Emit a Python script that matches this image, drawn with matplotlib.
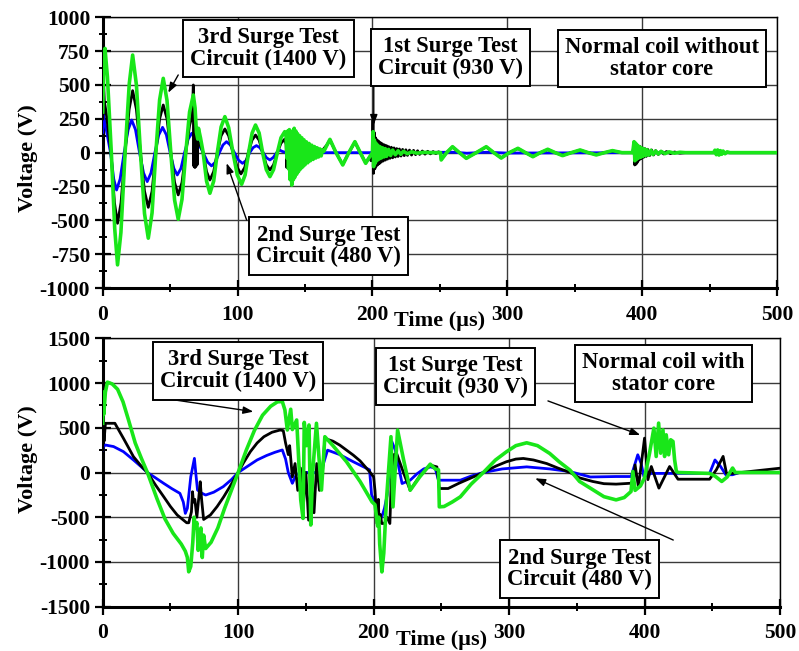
import numpy as np
import matplotlib
matplotlib.use("Agg")
import matplotlib.pyplot as plt
from matplotlib.ticker import MultipleLocator
from matplotlib.font_manager import FontProperties

plt.rcParams['font.family'] = ['Liberation Serif', 'DejaVu Serif']
plt.rcParams['font.weight'] = 'bold'
plt.rcParams['axes.unicode_minus'] = False

# ---------------- Upper panel: coil without stator core ----------------
# 2nd surge test circuit (480 V)
top_blue = [
    (0, 150), (0.5, 278), (1.5, 230), (5.8, 0), (8.2, -195), (10.3, -276), (12.9, -195),
    (15.9, 0), (18.9, 170), (21.5, 241), (24.3, 170), (27.3, 0), (30.3, -150), (33, -214),
    (35.8, -150), (38.7, 0), (41.6, 132), (44.4, 187), (47.2, 132), (50, 0), (52.8, -117),
    (55.3, -165), (58, -117), (60.7, 0), (63.4, 100), (66, 143), (68, 120), (69.5, 60),
    (70.3, 100), (71, 40), (72, 50), (74.5, 0), (77.8, -70), (80.7, -98), (83.5, -70),
    (86.5, 0), (89.2, 57), (91.8, 81), (94.6, 57), (97.7, 0), (100.8, -56), (103.7, -79),
    (106.5, -56), (109, 0), (111.5, 37), (114, 52), (116.5, 37), (119, 0), (121.5, -38),
    (124, -54), (126.5, -35), (129, 0), (131, 20), (133, 10), (136, 0), (199, 0), (200.5, 15),
    (201.5, -10), (203, 0), (260, 3), (270, -4), (285, 3), (300, -3), (395, 0), (396, 8),
    (397, -6), (399, 0), (500, 0),
]
# 1st surge test circuit (930 V)
top_black = [
    (0, 250), (0.5, 550), (1.2, 380), (2.5, 300), (6.2, 0), (8.7, -370), (11, -522),
    (13.6, -370), (16.6, 0), (19.6, 320), (22.2, 458), (25, 320), (28, 0), (31, -285),
    (33.8, -404), (36.6, -285), (39.4, 0), (42.2, 250), (44.9, 352), (47.7, 250), (50.5, 0),
    (53.3, -220), (56, -312), (58.8, -220), (61.6, 0), (64.4, 200), (66.5, 280), (67.2, 500),
    (67.6, -100), (68, 300), (68.4, -110), (68.8, 200), (69.2, -100), (69.6, 150), (70, -90),
    (70.5, 80), (71.5, 70), (73, 40), (74.5, 0), (77, -140), (79.5, -202), (82.3, -140),
    (85, 0), (87.8, 125), (90.6, 175), (93.4, 125), (96.6, 0), (99.8, -110), (102.5, -157),
    (105.3, -110), (108, 0), (110.7, 92), (113.3, 130), (116, 92), (118.6, 0), (121.3, -90),
    (124, -128), (126.7, -90), (129.5, 0), (132.2, 70), (135, 100), (136, 60), (136.5, -110),
    (137, 100), (137.5, -105), (138, 95), (138.5, -100), (139, 80), (139.5, -90), (140.3, 60),
    (141, -60), (142, 50), (143, -50), (144, 40), (145, -40), (146.5, 35), (148, -30),
    (150, 25), (152, -20), (154, 18), (156, -15), (158, 12), (160, -10), (162, 8), (164, 30),
    (166.5, 60), (168.5, 95), (173, 0), (178, -88), (182.5, 0), (187, 78), (191, 0),
    (195, -76), (198, -30), (199, -60), (200, 0), (200.4, 241), (200.8, -153), (201.3, 150),
    (201.8, -120), (202.3, 110), (202.8, -100), (203.4, 95), (204, -90), (204.6, 85),
    (205.2, -80), (205.8, 75), (206.5, -70), (207.2, 66), (208, -62), (208.8, 58),
    (209.6, -55), (210.4, 52), (211.2, -48), (212, 45), (213, -42), (214, 40), (215, -38),
    (216, 35), (217, -32), (218, 30), (219, -28), (220, 27), (221.2, -25), (222.4, 24),
    (223.6, -22), (224.8, 21), (226, -20), (227.5, 19), (229, -18), (230.5, 17), (232, -15),
    (233.5, 14), (235, -13), (237, 12), (239, -11), (241, 10), (243, -9), (245, 8), (247, -7),
    (249, 6), (250.5, 0), (251, -50), (255, 0), (259.4, 42), (264.5, 0), (269.6, -40),
    (277, 0), (284.4, 42), (290, 0), (295.5, -38), (301.5, 0), (307.9, 30), (313.5, 0),
    (319, -28), (324.5, 0), (330, 23), (335.5, 0), (341, -20), (347.5, 0), (354, 18),
    (360, 0), (366, -15), (372, 0), (378, 13), (385, 0), (393, 0), (394, 60), (394.5, -91),
    (395, 70), (395.5, -85), (396, 60), (396.6, -70), (397.2, 50), (397.8, -55), (398.5, 45),
    (399.2, -45), (400, 38), (401, -35), (402, 30), (403, -28), (404, 25), (405.5, -22),
    (407, 20), (408.5, -17), (410, 15), (412, -13), (414, 11), (416, -10), (418, 8),
    (421, -7), (424, 5), (428, -4), (432, 0), (500, 0),
]
# 3rd surge test circuit (1400 V)
top_green = [
    (0, 300), (0.8, 650), (1.7, 770), (3.5, 560), (6.4, 0), (8.9, -560), (11, -829),
    (13.5, -590), (16.6, 0), (19.7, 510), (22.2, 721), (25, 500), (28, 0), (31, -450),
    (33.8, -632), (36.6, -445), (39.4, 0), (42.2, 390), (44.9, 549), (47.7, 385), (50.5, 0),
    (53.3, -350), (56, -492), (58.8, -345), (61.6, 0), (64.4, 300), (67.2, 426), (68.5, 330),
    (69.5, 150), (70.5, 100), (71, 180), (72.5, 110), (74.5, 0), (77, -210), (79.5, -300),
    (82.3, -210), (85, 0), (87.8, 190), (90.6, 266), (93.4, 185), (96.6, 0), (99.8, -165),
    (103, -234), (105.6, -165), (108.2, 0), (110.8, 145), (113.3, 204), (116, 145),
    (118.6, 0), (121.3, -125), (124, -177), (126.7, -125), (129.5, 0), (132.2, 110),
    (135, 155), (136, 120), (136.6, -40), (137.2, 160), (137.8, -120), (138.4, 170),
    (139, -200), (139.6, 150), (140.2, -240), (140.8, 160), (141.4, -200), (142, 180),
    (142.6, -180), (143.2, 160), (143.8, -160), (144.5, 140), (145.2, -140), (146, 125),
    (146.8, -120), (147.6, 110), (148.4, -105), (149.2, 95), (150, -90), (151, 80),
    (152, -75), (153, 68), (154, -60), (155, 55), (156, -50), (157, 45), (158, -40),
    (159, 36), (160, -32), (161, 28), (162, -24), (163, 20), (164, 10), (165, 30),
    (166.5, 60), (168.5, 98), (173, 0), (178, -91), (182.5, 0), (187, 81), (191, 0),
    (195, -79), (198, -30), (200, 0), (200.5, 155), (200.9, -103), (201.4, 94), (202, -79),
    (202.6, 70), (203.3, -60), (204, 55), (204.8, -48), (205.6, 44), (206.5, -40),
    (207.5, 36), (208.5, -32), (209.5, 30), (210.5, -27), (212, 24), (213.5, -21), (215, 19),
    (217, -16), (219, 14), (221, -12), (223, 10), (226, -8), (229, 6), (233, -4), (238, 2),
    (245, 0), (250.5, 0), (251, -54), (255, 0), (259.4, 44), (264.5, 0), (269.6, -42),
    (277, 0), (284.4, 44), (290, 0), (295.5, -40), (301.5, 0), (307.9, 32), (313.5, 0),
    (319, -30), (324.5, 0), (330, 25), (335.5, 0), (341, -22), (347.5, 0), (354, 20),
    (360, 0), (366, -17), (372, 0), (378, 15), (385, 0), (393, 0), (394, 81), (394.6, -60),
    (395.2, 70), (395.8, -50), (396.5, 55), (397.2, -40), (398, 45), (398.8, -35),
    (399.6, 35), (400.5, -28), (401.5, 28), (402.5, -22), (403.5, 22), (405, -18),
    (406.5, 17), (408, -14), (410, 12), (412, -10), (414, 9), (417, -7), (420, 6), (424, -4),
    (428, 3), (432, 0), (453, 0), (454, 18), (455, -15), (456, 20), (457, -18), (458, 15),
    (459, -12), (460, 12), (461.5, -8), (463, 6), (465, 0), (500, 0),
]

# ---------------- Lower panel: coil with stator core ----------------
bot_blue = [
    (0, 250), (0.5, 290), (2, 307), (8, 290), (15.3, 233), (22.7, 140), (28, 70), (33, 0),
    (39, -60), (45, -121), (51, -180), (57, -233), (59.5, -330), (61, -457), (62.5, -400),
    (65, -50), (67.7, 158), (69, -50), (70, -196), (73, -230), (76, -252), (82, -220),
    (89, -158), (95, -80), (100, 0), (107, 70), (114, 140), (121, 190), (127, 225),
    (132.6, 252), (135, 150), (137, 0), (140, -121), (143, -20), (150, 0), (161, 0),
    (164, 150), (166, 250), (175, 200), (185, 120), (197, 30), (198.5, -250), (200, -300),
    (203, -450), (206, -500), (208, -400), (210, -250), (211.5, 0), (213.5, 343), (216, 250),
    (221, -123), (227, -86), (232, -15), (237, 40), (242, 63), (245.5, 45), (247.9, -86),
    (264, -86), (272, -40), (281, 0), (295, 40), (313, 63), (330, 40), (345, 10), (360, -50),
    (379, -45), (390, -45), (391, 0), (395, 198), (397.5, 100), (399.5, -45), (405, -10),
    (448, -10), (452, 140), (456, 70), (460, -25), (465, -25), (470, 0), (500, 0),
]
bot_black = [
    (0, 250), (0.4, 513), (1, 350), (2, 550), (9, 550), (12, 470), (15.3, 382), (19, 280),
    (22.7, 177), (28, 80), (33, 0), (39, -140), (45, -270), (50, -380), (55, -475),
    (62, -562), (63.5, -562), (65.5, -440), (66.3, -215), (67, -330), (68, -300),
    (69.5, -500), (71, -270), (72, -103), (73, -300), (74.5, -525), (79.5, -475),
    (84.5, -380), (89.4, -270), (95, -130), (100, 0), (104, 110), (109, 233), (114, 330),
    (119, 400), (125, 450), (131, 475), (133.3, 468), (135, 330), (137, 200), (138, 300),
    (140, -50), (142, 100), (144, -200), (146, 50), (148, -400), (150, 0), (152, -533),
    (154, -100), (156, -450), (158, 100), (160, -200), (162, -50), (164, 380), (170, 350),
    (175, 306), (185, 194), (190, 130), (197.5, 0), (200, -50), (201, -200), (202.5, -570),
    (203.5, -300), (204, -570), (205, -470), (206, -570), (208, -570), (210, -500),
    (212, -570), (213, -100), (215, 200), (217, 213), (222, 0), (227, -198), (234, -40),
    (241.8, 82), (246.7, 63), (248.5, -179), (255, -179), (263, -120), (271, -67), (281, 0),
    (290, 70), (298, 120), (305, 150), (310.5, 157), (318, 140), (327.8, 100), (336, 50),
    (345, 0), (352, -60), (361.7, -100), (370, -125), (379, -130), (390, -120), (392, -80),
    (393, 85), (395.5, -160), (400, 384), (402.5, -80), (405, 67), (410.6, -175),
    (418.5, 67), (424.7, -75), (448, -75), (453, 30), (458, 180), (460.5, -10), (465, -10),
    (500, 48),
]
bot_green = [
    (0, 550), (0.3, 900), (0.8, 650), (2, 900), (3.5, 1010), (7, 990), (11, 930), (15, 790),
    (19, 590), (24, 330), (28.5, 160), (33, 0), (40, -290), (46, -520), (52, -680),
    (58, -800), (61, -880), (62.5, -950), (63.5, -1110), (65, -1050), (66.5, -780),
    (67.5, -500), (68.5, -620), (69.5, -560), (70.5, -870), (71.5, -700), (72.5, -620),
    (73.5, -950), (74.5, -700), (76, -850), (80, -780), (85, -620), (90, -400), (95, -200),
    (100, 0), (106, 250), (112, 470), (118, 640), (124, 740), (129, 790), (132.6, 793),
    (134.5, 700), (136.3, 475), (138.8, 707), (140, 480), (143.2, 587), (146.2, -307),
    (147.9, -513), (148.8, 560), (150.5, 300), (152.3, 531), (153.6, -587), (155, 0),
    (157.8, 550), (159.5, 200), (161.5, -196), (164, 400), (170, 300), (180, 120),
    (190, -100), (198.8, -328), (201, -360), (203, -600), (203.8, -500), (204.5, -800),
    (206.1, -1111), (207.5, -900), (209.5, -300), (212.8, 400), (214.3, -384), (217.7, 474),
    (222, 150), (227, -198), (234, -50), (241.8, 93), (245.5, 40), (247.9, 30),
    (248.5, -384), (252, -380), (258, -330), (264, -272), (272, -130), (281, 0), (290, 140),
    (298, 231), (305, 300), (313, 332), (321, 300), (330, 213), (337, 120), (345, 26),
    (352, -100), (362, -194), (370, -270), (379, -306), (385, -280), (390, -213),
    (391.4, 11), (393, -200), (397, -150), (400, -60), (403.7, 216), (406.9, 496),
    (408.6, 179), (410.4, 552), (411.9, 216), (413.6, 477), (414.8, 179), (416, 421),
    (417.8, 198), (419.3, 366), (421, 347), (422.2, 142), (423.5, 11), (425, 0), (448, -10),
    (452, -40), (457, -100), (461, -50), (465, 50), (467, 0), (500, 0),
]

series_colors = {'blue': '#0000ff', 'black': '#000000', 'green': '#19e619'}
series_widths = {'blue': 2.0, 'black': 2.0, 'green': 2.6}

fig = plt.figure(figsize=(7.99, 6.51), dpi=100)
W, H = 799, 651
ax_top = fig.add_axes([102.7 / W, 1 - 288 / H, (777 - 102.7) / W, (288 - 17.3) / H])
ax_bot = fig.add_axes([102.7 / W, 1 - 606.7 / H, (780 - 102.7) / W, (606.7 - 338.3) / H])

tick_font = dict(family='Liberation Serif', weight='bold', size=15.5)
box_font = dict(family='Liberation Serif', weight='bold', size=16.3)


def draw_series(ax, data):
    for name, pts in data:
        arr = np.array(pts, dtype=float)
        ax.plot(arr[:, 0], arr[:, 1], color=series_colors[name],
                lw=series_widths[name], solid_joinstyle='round', zorder=3)


def style_axis(ax, ylim, ymaj, ymin, label_y):
    ax.set_xlim(0, 500)
    ax.set_ylim(*ylim)
    ax.xaxis.set_major_locator(MultipleLocator(100))
    ax.xaxis.set_minor_locator(MultipleLocator(50))
    ax.yaxis.set_major_locator(MultipleLocator(ymaj))
    ax.yaxis.set_minor_locator(MultipleLocator(ymin))
    ax.grid(True, which='major', color='#3a3a3a', lw=1.0, zorder=1)
    ax.tick_params(which='major', direction='inout', length=11, width=1.6)
    ax.tick_params(which='minor', direction='inout', length=6, width=1.4)
    ax.tick_params(axis='y', which='major', pad=3.5)
    ax.tick_params(axis='x', which='major', pad=6.5)
    for lbl in ax.get_xticklabels() + ax.get_yticklabels():
        lbl.set_fontproperties(FontProperties(**tick_font))
    for side in ('left', 'bottom'):
        ax.spines[side].set_linewidth(2.2)
    for side in ('top', 'right'):
        ax.spines[side].set_linewidth(1.0)
    ax.set_xlabel('Time (µs)', fontdict=dict(family='Liberation Serif', weight='bold', size=16))
    ax.set_ylabel('Voltage (V)', fontdict=dict(family='Liberation Serif', weight='bold', size=16))
    ax.yaxis.set_label_coords(-0.096, label_y)


def box_label(ax, x, y, text):
    ax.text(x, y, text, ha='center', va='center', linespacing=1.05, zorder=6,
            bbox=dict(boxstyle='square,pad=0.32', fc='white', ec='black', lw=1.4),
            **box_font)


def arrow(ax, start, tip):
    ax.annotate('', xy=tip, xytext=start, zorder=5,
                arrowprops=dict(arrowstyle='-|>,head_length=0.6,head_width=0.22',
                                color='black', lw=1.0, shrinkA=0, shrinkB=0))


# Upper panel
draw_series(ax_top, [('blue', top_blue), ('black', top_black), ('green', top_green)])
style_axis(ax_top, (-1000, 1000), 250, 125, 0.48)
ax_top.xaxis.set_label_coords(0.5, -0.086)
box_label(ax_top, 122.7, 770, '3rd Surge Test\nCircuit (1400 V)')
arrow(ax_top, (56, 574), (48.6, 443))
box_label(ax_top, 258, 703, '1st Surge Test\nCircuit (930 V)')
arrow(ax_top, (201, 500), (201, 205))
box_label(ax_top, 414.7, 698, 'Normal coil without\nstator core')
box_label(ax_top, 167.6, -690, '2nd Surge Test\nCircuit (480 V)')
arrow(ax_top, (106.7, -497), (91.9, -78))

# Lower panel
draw_series(ax_bot, [('blue', bot_blue), ('black', bot_black), ('green', bot_green)])
style_axis(ax_bot, (-1500, 1500), 500, 250, 0.55)
ax_bot.xaxis.set_label_coords(0.5, -0.087)
box_label(ax_bot, 99.9, 1135, '3rd Surge Test\nCircuit (1400 V)')
arrow(ax_bot, (39.9, 841), (111.2, 680))
box_label(ax_bot, 260.3, 1075, '1st Surge Test\nCircuit (930 V)')
arrow(ax_bot, (328.7, 800), (396.8, 419))
box_label(ax_bot, 413.7, 1103, 'Normal coil with\nstator core')
box_label(ax_bot, 351.9, -1079, '2nd Surge Test\nCircuit (480 V)')
arrow(ax_bot, (421.2, -755), (319.3, -65))

fig.savefig('out.png', dpi=100)
